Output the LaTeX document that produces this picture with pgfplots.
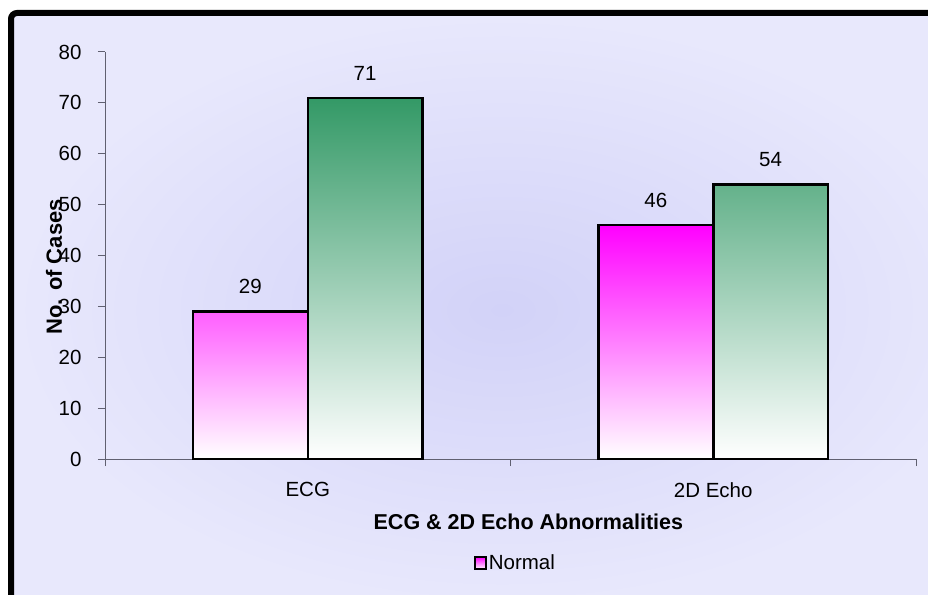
\documentclass[border=0pt]{standalone}
\usepackage{pgfplots}
\pgfplotsset{compat=1.18}
\usepackage{fontspec}
\setmainfont{Liberation Sans}
\definecolor{bgout}{HTML}{E8E8FC}
\definecolor{bgin}{HTML}{D2D2F8}
\definecolor{axgray}{HTML}{606070}
\definecolor{pinktop}{HTML}{FF00FF}
\definecolor{greentop}{HTML}{339966}
\begin{document}
\begin{tikzpicture}[x=1pt,y=1pt]
\useasboundingbox (0,0) rectangle (928,594);
\fill[white] (0,0) rectangle (928,594);
\shade[inner color=bgin, outer color=bgout] (14,-10) rectangle (990,578);
\draw[line width=6pt, rounded corners=6pt] (11,-20) |- (1000,581);
\begin{axis}[
  at={(105pt,135pt)}, anchor=south west,
  scale only axis, width=811pt, height=407pt,
  xmin=-0.5, xmax=1.5, ymin=0, ymax=80,
  ytick={0,10,...,80},
  xtick={-0.5,0.5,1.5}, xticklabels={},
  extra x ticks={0,1}, extra x tick labels={ECG,2D Echo},
  extra x tick style={major tick length=0pt, xticklabel style={yshift=-20pt}},
  separate axis lines,
  axis x line=bottom, axis y line=left,
  axis line style={-, draw=axgray, line width=1pt},
  tick style={draw=axgray, line width=1pt},
  tick align=outside, major tick length=7pt,
  /pgf/number format/assume math mode=true,
  tick label style={font=\fontsize{20.5}{24}\selectfont, text=black},
  yticklabel style={xshift=-13pt},
  xlabel={\bfseries ECG \& 2D Echo Abnormalities},
  ylabel={\bfseries No. of Cases},
  every axis x label/.style={at={(axis description cs:0.522,-0.155)}, anchor=center, font=\fontsize{21.5}{24}\selectfont},
  every axis y label/.style={at={(axis description cs:-0.063,0.472)}, rotate=90, anchor=center, font=\fontsize{22}{24}\selectfont},
  ybar=0pt, bar width=0.283,
  nodes near coords,
  every node near coord/.append style={font=\fontsize{20.5}{24}\selectfont, text=black, yshift=13pt},
  legend style={at={(axis description cs:0.506,-0.256)}, anchor=center, draw=none, fill=none, font=\fontsize{20.5}{24}\selectfont, inner sep=0pt},
  legend image code/.code={\draw[shade, top color=pinktop, bottom color=white, draw=black, line width=2pt] (0pt,-6pt) rectangle (11pt,6pt);},
]
\addplot[draw=black, line width=2.5pt, shade, top color=pinktop, bottom color=white]
  coordinates {(0,29) (1,46)};
\addlegendentry{Normal}
\addplot[draw=black, line width=2.5pt, shade, top color=greentop, bottom color=white]
  coordinates {(0,71) (1,54)};
\end{axis}
\end{tikzpicture}
\end{document}
